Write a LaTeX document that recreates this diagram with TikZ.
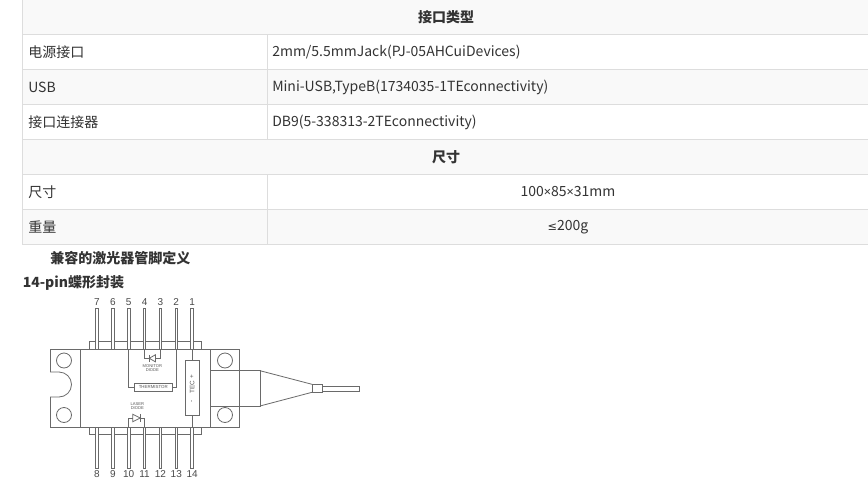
\documentclass[tikz,border=0pt]{standalone}
\usepackage{fontspec}
\setmainfont{Noto Sans CJK SC}
\newfontfamily\pinfont{Liberation Sans}
\newfontfamily\symf{Noto Sans}
\newfontfamily\dejaf{DejaVu Sans}
\definecolor{tblline}{HTML}{DDDDDD}
\definecolor{rowgray}{HTML}{F9F9F9}
\definecolor{txt}{HTML}{333333}
\definecolor{diag}{HTML}{6A6A6A}
\begin{document}
\begin{tikzpicture}[x=0.75pt,y=-0.75pt,
  grid/.style={draw=tblline,line width=0.75pt},
  cell/.style={inner sep=0pt,text=txt,font=\fontsize{10.5}{12}\selectfont},
  lbl/.style={cell,anchor=west},
  hdr/.style={cell,font=\fontsize{10.5}{12}\selectfont\bfseries},
  titl/.style={inner sep=0pt,anchor=west,text=txt,font=\fontsize{10.5}{12}\selectfont\bfseries},
  dl/.style={draw=diag,line width=0.6pt},
  pin/.style={dl,fill=white},
  pnum/.style={inner sep=0pt,text=diag!70!black,font=\pinfont\fontsize{7.5}{8}\selectfont},
  tiny/.style={inner sep=0pt,text=diag!80!black,font=\pinfont\fontsize{3.1}{3.4}\selectfont},
  tecf/.style={inner sep=0pt,text=diag!80!black,font=\pinfont\fontsize{4.8}{5}\selectfont,rotate=90}]
\useasboundingbox (0,0) rectangle (868,482);
\fill[white] (0,0) rectangle (868,482);
% ---------- table ----------
\fill[rowgray] (22.5,0) rectangle (869,34.5);
\fill[rowgray] (22.5,69.5) rectangle (869,104.5);
\fill[rowgray] (22.5,139.5) rectangle (869,174.5);
\fill[rowgray] (22.5,209.5) rectangle (869,244.5);
\foreach \yy in {34.5,69.5,104.5,139.5,174.5,209.5,244.5}
  \draw[grid] (22.5,\yy) -- (869,\yy);
\draw[grid] (22.5,0) -- (22.5,244.5);
\draw[grid] (267.5,34.5) -- (267.5,139.5);
\draw[grid] (267.5,174.5) -- (267.5,244.5);
\node[hdr] (h1) at (446,17) {接口类型};
\node[lbl] (r1a) at (28,52) {电源接口};
\node[lbl] (r1b) at (272,52) {2mm/5.5mmJack(PJ-05AHCuiDevices)};
\node[lbl] (r2a) at (28,87) {USB};
\node[lbl] (r2b) at (272,87) {Mini-USB,TypeB(1734035-1TEconnectivity)};
\node[lbl] (r3a) at (28,122) {接口连接器};
\node[lbl] (r3b) at (272,122) {DB9(5-338313-2TEconnectivity)};
\node[hdr] (h2) at (446,157) {尺寸};
\node[lbl] (r4a) at (28,192) {尺寸};
\node[cell] (r4b) at (568,192) {100{\symf\fontsize{9.5}{12}\selectfont ×}85{\symf\fontsize{9.5}{12}\selectfont ×}31mm};
\node[lbl] (r5a) at (28,227) {重量};
\node[cell] (r5b) at (568,227) {{\dejaf\fontsize{8.5}{12}\selectfont ≤}200g};
\node[titl] (t1) at (50,258) {兼容的激光器管脚定义};
\node[titl] (t2) at (22.5,283) {14-pin蝶形封装};
% ---------- package drawing ----------
% left flange with notch
\draw[dl] (80,349.5) -- (50.5,349.5) -- (50.5,372) -- (59,372)
  arc[start angle=-90,end angle=90,radius=12.5] -- (50.5,397) -- (50.5,427.5) -- (80,427.5);
% body
\draw[dl] (80,349.5) rectangle (210,427.5);
% right flange
\draw[dl] (210,349.5) -- (239.5,349.5) -- (239.5,427.5) -- (210,427.5);
% mounting holes
\draw[dl] (64,360.5) circle[radius=7.5];
\draw[dl] (64,415) circle[radius=7.5];
\draw[dl] (225,360.5) circle[radius=7.5];
\draw[dl] (225,415) circle[radius=7.5];
% pin strips
\draw[dl] (89,349.5) -- (89,341.7) -- (201,341.7) -- (201,349.5);
\draw[dl] (89,427.5) -- (89,434.5) -- (201,434.5) -- (201,427.5);
% fibre housing, taper, fibre
\draw[dl] (210,370.7) rectangle (260,406);
\draw[dl] (260,370.7) -- (312,384.3);
\draw[dl] (260,406) -- (312,392.3);
\draw[dl] (312,384.3) rectangle (322.7,392.3);
\draw[dl] (322.7,386) rectangle (359.3,391);
% pins and numbers
\foreach \i/\t/\b in {0/7/8,1/6/9,2/5/10,3/4/11,4/3/12,5/2/13,6/1/14}{
  \pgfmathsetmacro{\px}{97+15.85*\i}
  \draw[pin] (\px-1.3,308.5) rectangle (\px+1.3,349.5);
  \draw[pin] (\px+-1.3,427.5) rectangle (\px+1.3,468);
  \node[pnum] (pt\t) at (\px,301.7) {\t};
  \node[pnum] (pb\b) at (\px,474.3) {\b};
}
% thermistor (pins 5 and 2)
\node[dl,inner sep=0pt,minimum width=38pt*0.75,minimum height=7.7pt*0.75,
      font=\pinfont\fontsize{3.3}{3.5}\selectfont,text=diag!80!black] (th) at (153.3,387.2) {THERMISTOR};
\draw[dl] (128.7,349.5) |- (th.west);
\draw[dl] (176.25,349.5) |- (th.east);
% monitor diode (pins 4 and 3)
\coordinate (mdl) at (149.2,358.3);
\coordinate (mdr) at (155.4,358.3);
\draw[dl] (144.55,349.5) |- (mdl);
\draw[dl] (160.4,349.5) |- (mdr);
\draw[dl] (149.2,354.8) -- (149.2,361.8);
\draw[dl] (155.4,354.8) -- (155.4,361.8) -- (149.2,358.3) -- cycle;
\node[tiny] (mon1) at (152.4,365.6) {MONITOR};
\node[tiny] (mon2) at (152.4,369.6) {DIODE};
% TEC (pins 1 and 14)
\draw[dl] (185,360.5) rectangle (199.5,415.7);
\coordinate (tect) at (192.1,360.5);
\coordinate (tecb) at (192.1,415.7);
\draw[dl] (192.1,349.5) -- (tect);
\draw[dl] (tecb) -- (192.1,427.5);
\node[tecf] (tecp) at (192.1,376.7) {+};
\node[tecf] (tecn) at (192.1,387.5) {TEC};
\node[tecf] (tecm) at (192.1,401.7) {-};
% laser diode (pins 10 and 11)
\coordinate (ldl) at (132.8,418);
\coordinate (ldr) at (140.2,418);
\draw[dl] (128.7,427.5) |- (ldl);
\draw[dl] (144.55,427.5) |- (ldr);
\draw[dl] (132.8,414.3) -- (132.8,421.7) -- (140.2,418) -- cycle;
\draw[dl] (140.2,414.3) -- (140.2,421.7);
\node[tiny] (las1) at (137.3,404.2) {LASER};
\node[tiny] (las2) at (137.3,408.3) {DIODE};
\end{tikzpicture}
\end{document}
